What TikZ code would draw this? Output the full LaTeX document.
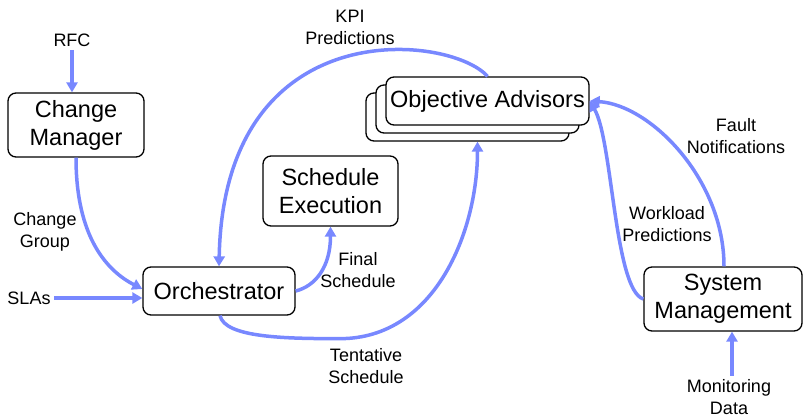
\documentclass[tikz,border=0pt]{standalone}
\usepackage{fontspec}
\setmainfont{Liberation Sans}
\usetikzlibrary{arrows.meta,positioning}
\definecolor{flowblue}{RGB}{120,136,255}

\tikzset{
  box/.style={draw,rounded corners=8pt,line width=1.3pt,fill=white,align=center,inner sep=0pt,
    font=\fontsize{23.5}{28}\selectfont},
  lab/.style={align=center,font=\fontsize{18}{22}\selectfont},
  flow/.style={draw=flowblue,line width=3.5pt,-{Triangle[width=11pt,length=10pt]}}
}

\begin{document}
\begin{tikzpicture}[x=1pt,y=-1pt]
\useasboundingbox (0,0) rectangle (803,418);
% boxes
\node[box,minimum width=136pt,minimum height=64pt] (cm) at (76,125) {Change\\Manager};
\node[box,minimum width=135pt,minimum height=70pt] (sched) at (330.5,191) {Schedule\\Execution};
\node[box,minimum width=152pt,minimum height=48pt] (orch) at (219,291) {Orchestrator};
\node[box,minimum width=203pt,minimum height=48pt] (adv3) at (467.5,117) {};
\node[box,minimum width=203pt,minimum height=48pt] (adv2) at (477.5,109) {};
\node[box,minimum width=203pt,minimum height=48pt] (adv) at (487.5,101) {Objective Advisors};
\node[box,minimum width=158pt,minimum height=64pt] (sm) at (723,299) {System\\Management};
% labels
\node[lab] (rfc) at (72,40) {RFC};
\node[lab] (chgrp) at (45,232) {Change\\Group};
\node[lab] (slas) at (29,298) {SLAs};
\node[lab] (kpi) at (350,27) {KPI\\Predictions};
\node[lab] (final) at (358,270) {Final\\Schedule};
\node[lab] (tent) at (366,366) {Tentative\\Schedule};
\node[lab] (work) at (667,224) {Workload\\Predictions};
\node[lab] (fault) at (736,136) {Fault\\Notifications};
\node[lab] (mon) at (729,397) {Monitoring\\Data};
% connectors
\draw[flow] (rfc) -- (rfc |- cm.north);
\draw[flow] (slas.east) -- (slas.east -| orch.west);
\draw[flow] (cm.south) .. controls +(0,80) and +(-35,-18) .. ([yshift=2pt]orch.west);
\draw[flow] (orch.east) .. controls +(20,-5) and +(0,40) .. (sched.south);
\draw[flow] ([xshift=1pt]orch.south) .. controls +(5,22) and +(-55,0) .. ++(120,23)
  .. controls +(95,0) and +(0,90) .. (adv2.south |- adv3.south);
\draw[flow] (adv.north) .. controls +(-37,-42) and +(5,-257) .. (orch.north);
\draw[flow] (sm.west) .. controls +(-29,-9) and +(23,39) .. (adv.east);
\draw[flow] ([xshift=1pt]sm.north) .. controls +(0,-87) and +(61,4) .. (adv.east);
\draw[flow] ([xshift=3pt]mon.north) -- ([xshift=3pt]mon.north |- sm.south);
\end{tikzpicture}
\end{document}
